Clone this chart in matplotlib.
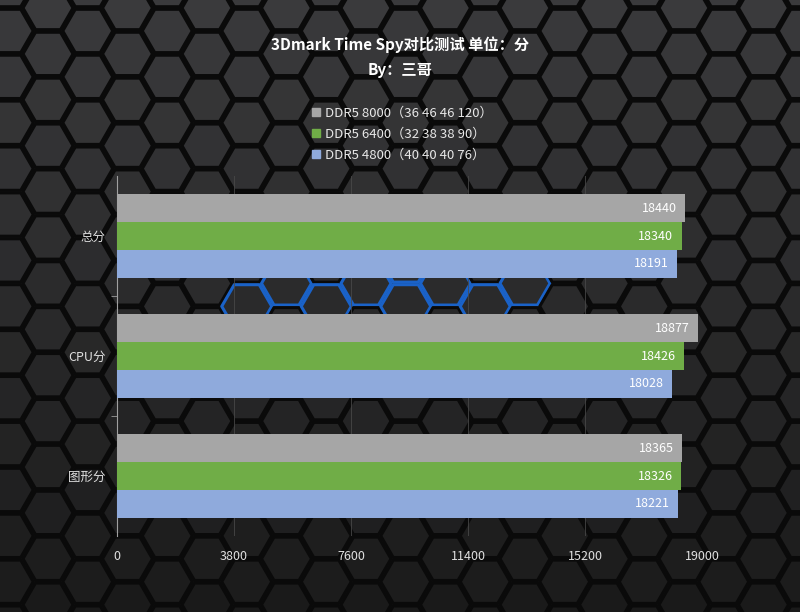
import numpy as np
import matplotlib
matplotlib.use('Agg')
import matplotlib.pyplot as plt
from matplotlib.patches import RegularPolygon, Patch
from matplotlib.collections import PatchCollection

plt.rcParams['font.family'] = ['Noto Sans CJK SC', 'DejaVu Sans']

# data
categories = ['总分', 'CPU分', '图形分']
series_names = ['DDR5 8000（36 46 46 120）',
                'DDR5 6400（32 38 38 90）',
                'DDR5 4800（40 40 40 76）']
ddr5_8000 = [18440, 18877, 18365]
ddr5_6400 = [18340, 18426, 18326]
ddr5_4800 = [18191, 18028, 18221]
series = [ddr5_8000, ddr5_6400, ddr5_4800]
colors = ['#a6a6a6', '#70ad47', '#8faadc']
xticks = [0, 3800, 7600, 11400, 15200, 19000]

W, H = 800, 612
fig = plt.figure(figsize=(W / 100, H / 100), dpi=100)
fig.patch.set_facecolor('#222222')

# hexagon background
bg = fig.add_axes([0, 0, 1, 1], zorder=-10)
bg.set_xlim(0, W)
bg.set_ylim(H, 0)
bg.axis('off')
R = 26.5
dx = 1.5 * R
dy = np.sqrt(3) * R
top_c = np.array([0x3a, 0x3a, 0x3c]) / 255
bot_c = np.array([0x1a, 0x1a, 0x1a]) / 255
hexes, faces, edges = [], [], []
for i in range(-1, int(W / dx) + 2):
    cx = 48 + dx * i
    off = dy / 2 if i % 2 else 0
    for j in range(-1, int(H / dy) + 2):
        cy = 8 + dy * j + off
        hexes.append(RegularPolygon((cx, cy), 6, radius=R - 1.5,
                                    orientation=np.pi / 6))
        t = min(max(cy / H, 0), 1)
        faces.append(top_c * (1 - t) + bot_c * t)
        d = ((cx - 385) / 165) ** 2 + ((cy - 292) / 32) ** 2
        if d < 1:
            edges.append('#1a62c8')
        else:
            edges.append('#0a0a0a')
pc = PatchCollection(hexes, facecolors=faces, edgecolors=edges, linewidths=2.2)
bg.add_collection(pc)

# main axes
ax = fig.add_axes([117 / W, 1 - 536 / H, (702 - 117) / W, (536 - 176) / H])
ax.set_facecolor('none')
bar_h = 0.2333
y = np.arange(len(categories))
for k, (vals, col, name) in enumerate(zip(series, colors, series_names)):
    pos = y + (k - 1) * bar_h
    bars = ax.barh(pos, vals, height=bar_h, color=col, label=name, zorder=3)
    for b, v in zip(bars, vals):
        ax.annotate(str(v), (v, b.get_y() + b.get_height() / 2),
                    xytext=(-6, 0), textcoords='offset points',
                    ha='right', va='center', color='white', fontsize=9,
                    zorder=4)

ax.set_xlim(0, 19000)
ax.set_ylim(2.5, -0.5)
ax.set_xticks(xticks)
ax.set_xticklabels([str(t) for t in xticks])
ax.set_yticks(y)
ax.set_yticklabels(categories)
ax.set_yticks([0.5, 1.5], minor=True)
ax.tick_params(axis='y', which='major', length=0, pad=8, colors='#e0e0e0',
               labelsize=9)
ax.tick_params(axis='y', which='minor', length=4, color='#9a9a9a')
ax.tick_params(axis='x', length=0, pad=10, colors='#e0e0e0', labelsize=9)
ax.grid(axis='x', color='#4a4a4a', linewidth=0.7, alpha=0.8, zorder=0)
for s in ['top', 'right', 'bottom']:
    ax.spines[s].set_visible(False)
ax.spines['left'].set_color('#a0a0a0')
ax.spines['left'].set_linewidth(0.8)

fig.text(0.5, 1 - 45 / H, '3Dmark Time Spy对比测试 单位：分', ha='center',
         va='center', color='white', fontsize=11, fontweight='bold')
fig.text(0.5, 1 - 70 / H, 'By：三哥', ha='center', va='center',
         color='white', fontsize=11, fontweight='bold')

handles = [Patch(color=c) for c in colors]
fig.legend(handles, series_names, loc='upper left',
           bbox_to_anchor=(300 / W, 1 - 95 / H), frameon=False,
           fontsize=9.5, labelcolor='#e8e8e8', handlelength=0.6,
           handleheight=0.6, handletextpad=0.4, labelspacing=0.6)

fig.savefig('out.png', dpi=100, facecolor=fig.get_facecolor())
